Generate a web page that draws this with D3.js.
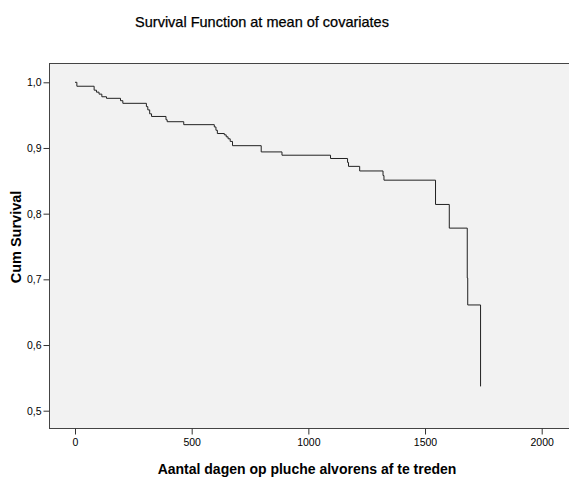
<!DOCTYPE html>
<html>
<head>
<meta charset="utf-8">
<script src="https://cdn.jsdelivr.net/npm/d3@7"></script>
<style>
  html, body { margin: 0; padding: 0; background: #fff; }
  svg { display: block; }
  text { font-family: "Liberation Sans", Arial, sans-serif; fill: #000; }
</style>
</head>
<body>
<svg id="chart" width="569" height="477"></svg>
<script>
// ---- data ----
const title = "Survival Function at mean of covariates";
const xLabel = "Aantal dagen op pluche alvorens af te treden";
const yLabel = "Cum Survival";
const xTicks = [0, 500, 1000, 1500, 2000];
const yTicks = [0.5, 0.6, 0.7, 0.8, 0.9, 1.0];
const times = [0, 8, 82, 92, 103, 115, 135, 195, 205, 306, 312, 320, 328, 390, 395, 466, 597, 604, 610, 640, 648, 656, 665, 675, 798, 887, 1095, 1168, 1172, 1220, 1320, 1324, 1545, 1604, 1681, 1683, 1738];
const survival = [1.0, 0.994, 0.988, 0.985, 0.982, 0.978, 0.9756, 0.972, 0.968, 0.963, 0.958, 0.952, 0.948, 0.943, 0.940, 0.9355, 0.932, 0.927, 0.922, 0.920, 0.917, 0.914, 0.910, 0.9035, 0.894, 0.889, 0.884, 0.878, 0.872, 0.865, 0.858, 0.851, 0.814, 0.778, 0.702, 0.661, 0.537];

// ---- layout ----
const plot = { left: 49.5, top: 63.5, right: 572, bottom: 428.5 };
const svg = d3.select("#chart");

const x = d3.scaleLinear().domain([0, 2000]).range([75, 541.7]);
const y = d3.scaleLinear().domain([0.5, 1.0]).range([410.7, 82.3]);

// title
svg.append("text")
  .attr("x", 262).attr("y", 27)
  .attr("text-anchor", "middle")
  .style("font-size", "14.5px")
  .style("stroke", "#000").style("stroke-width", "0.25px")
  .text(title);

// plot background & frame
svg.append("rect")
  .attr("x", plot.left).attr("y", plot.top)
  .attr("width", plot.right - plot.left).attr("height", plot.bottom - plot.top)
  .attr("fill", "#f2f2f2")
  .attr("stroke", "#444").attr("stroke-width", 1);

// y axis
const yAxis = d3.axisLeft(y).tickValues(yTicks).tickSize(6).tickSizeOuter(0)
  .tickFormat(d => d3.format(".1f")(d).replace(".", ","));
const gy = svg.append("g").attr("transform", `translate(${plot.left},0)`).call(yAxis);
gy.select(".domain").remove();
gy.selectAll(".tick line").attr("stroke", "#333");
gy.selectAll(".tick text").attr("x", -8).style("font-size", "10.5px").style("font-family", '"Liberation Sans", Arial, sans-serif').attr("fill", "#000");

// x axis
const xAxis = d3.axisBottom(x).tickValues(xTicks).tickSize(6).tickSizeOuter(0).tickFormat(d3.format("d"));
const gx = svg.append("g").attr("transform", `translate(0,${plot.bottom})`).call(xAxis);
gx.select(".domain").remove();
gx.selectAll(".tick line").attr("stroke", "#333");
gx.selectAll(".tick text").attr("y", 10).style("font-size", "10.5px").style("font-family", '"Liberation Sans", Arial, sans-serif').attr("fill", "#000");

// survival step line
const pts = times.map((t, i) => [t, survival[i]]);
const line = d3.line().x(d => x(d[0])).y(d => y(d[1])).curve(d3.curveStepAfter);
svg.append("path")
  .datum(pts)
  .attr("d", line)
  .attr("fill", "none")
  .attr("stroke", "#222")
  .attr("stroke-width", 1);

// axis titles
svg.append("text")
  .attr("x", 307).attr("y", 474)
  .attr("text-anchor", "middle")
  .style("font-size", "14px").style("font-weight", "bold")
  .text(xLabel);

svg.append("text")
  .attr("transform", "translate(21,237) rotate(-90)")
  .attr("text-anchor", "middle")
  .style("font-size", "14.5px").style("font-weight", "bold")
  .text(yLabel);
</script>
</body>
</html>
